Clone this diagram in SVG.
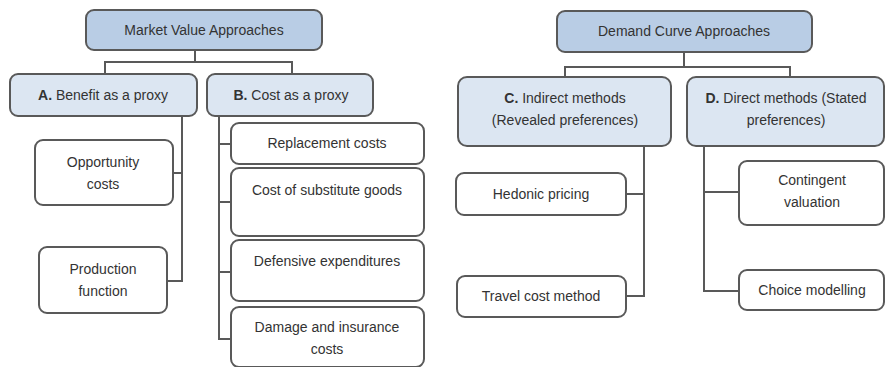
<svg xmlns="http://www.w3.org/2000/svg" width="886" height="367" viewBox="0 0 886 367">
<style>
.top{fill:#b9cde5;stroke:#595959;stroke-width:2}
.mid{fill:#dce6f2;stroke:#595959;stroke-width:2}
.leaf{fill:#ffffff;stroke:#595959;stroke-width:2}
.c{fill:none;stroke:#595959;stroke-width:2}
text{font-family:"Liberation Sans","Open Sans",sans-serif;font-size:14px;fill:#333;text-anchor:middle}
</style>
<rect width="886" height="367" fill="#fff"/>
<g id="connectors">
<path class="c" d="M195,50V62M105,74V62H292V74"/>
<path class="c" d="M182,116V281H167M173,173H182"/>
<path class="c" d="M219,116V339H231M219,144H231M219,202H231M219,272H231"/>
<path class="c" d="M684,52V67M565,77V67H790V77"/>
<path class="c" d="M644,146V296H626M626,194H644"/>
<path class="c" d="M704,146V291H739M704,192H739"/>
</g>
<g id="market"><rect class="top" x="86" y="10" width="236" height="40" rx="8"/><text x="204" y="35">Market Value Approaches</text></g>
<g id="benefit"><rect class="mid" x="10" y="74" width="187" height="42" rx="8"/><text x="103" y="100"><tspan font-weight="bold">A.</tspan> Benefit as a proxy</text></g>
<g id="cost"><rect class="mid" x="207" y="74" width="166" height="42" rx="8"/><text x="291" y="100"><tspan font-weight="bold">B.</tspan> Cost as a proxy</text></g>
<g id="opportunity"><rect class="leaf" x="35" y="140" width="138" height="65" rx="8"/><text x="103" y="167">Opportunity</text><text x="103" y="189">costs</text></g>
<g id="production"><rect class="leaf" x="39" y="247" width="128" height="66" rx="8"/><text x="103" y="274">Production</text><text x="103" y="296">function</text></g>
<g id="replacement"><rect class="leaf" x="231" y="123" width="193" height="41" rx="8"/><text x="327" y="148">Replacement costs</text></g>
<g id="substitute"><rect class="leaf" x="231" y="168" width="193" height="68" rx="8"/><text x="327" y="195">Cost of substitute goods</text></g>
<g id="defensive"><rect class="leaf" x="231" y="240" width="193" height="61" rx="8"/><text x="327" y="266">Defensive expenditures</text></g>
<g id="damage"><rect class="leaf" x="231" y="307" width="193" height="60" rx="8"/><text x="327" y="332">Damage and insurance</text><text x="327" y="354">costs</text></g>
<g id="demand"><rect class="top" x="557" y="11" width="255" height="41" rx="8"/><text x="684" y="36">Demand Curve Approaches</text></g>
<g id="indirect"><rect class="mid" x="458" y="77" width="213" height="69" rx="9"/><text x="565" y="103"><tspan font-weight="bold">C.</tspan> Indirect methods</text><text x="565" y="125">(Revealed preferences)</text></g>
<g id="direct"><rect class="mid" x="687" y="77" width="197" height="69" rx="9"/><text x="786" y="103"><tspan font-weight="bold">D.</tspan> Direct methods (Stated</text><text x="786" y="125">preferences)</text></g>
<g id="hedonic"><rect class="leaf" x="456" y="173" width="170" height="42" rx="8"/><text x="541" y="199">Hedonic pricing</text></g>
<g id="travel"><rect class="leaf" x="457" y="276" width="169" height="41" rx="8"/><text x="541" y="301">Travel cost method</text></g>
<g id="contingent"><rect class="leaf" x="739" y="161" width="145" height="64" rx="8"/><text x="812" y="185">Contingent</text><text x="812" y="207">valuation</text></g>
<g id="choice"><rect class="leaf" x="739" y="270" width="145" height="40" rx="8"/><text x="812" y="295">Choice modelling</text></g>
</svg>
